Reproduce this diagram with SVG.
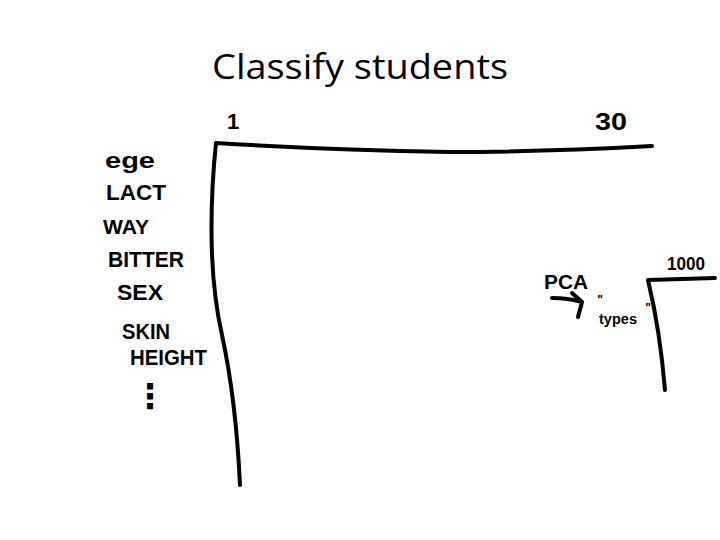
<svg xmlns="http://www.w3.org/2000/svg" width="720" height="540" viewBox="0 0 720 540">
<style>
.title{font-family:"Open Sans","Liberation Sans",sans-serif;font-size:35px;fill:#000}
.hw{font-family:"Liberation Sans","DejaVu Sans",sans-serif;font-weight:bold;fill:#000}
.ink{fill:none;stroke:#000;stroke-width:4;stroke-linecap:round;stroke-linejoin:round}
</style>
<rect width="720" height="540" fill="#fff"/>
<g id="title"><text class="title" x="360" y="79" text-anchor="middle" textLength="296" lengthAdjust="spacingAndGlyphs">Classify students</text></g>
<g id="features">
<text class="hw" x="105" y="168" font-size="22" textLength="50" lengthAdjust="spacingAndGlyphs">ege</text>
<text class="hw" x="106" y="200" font-size="22" textLength="60" lengthAdjust="spacingAndGlyphs">LACT</text>
<text class="hw" x="103" y="234" font-size="20" textLength="46" lengthAdjust="spacingAndGlyphs">WAY</text>
<text class="hw" x="108" y="267" font-size="22" textLength="76" lengthAdjust="spacingAndGlyphs">BITTER</text>
<text class="hw" x="117" y="300" font-size="22" textLength="46" lengthAdjust="spacingAndGlyphs">SEX</text>
<text class="hw" x="122" y="339" font-size="22" textLength="48" lengthAdjust="spacingAndGlyphs">SKIN</text>
<text class="hw" x="130" y="365" font-size="22" textLength="77" lengthAdjust="spacingAndGlyphs">HEIGHT</text>
<text class="hw" x="150" y="408" font-size="34" text-anchor="middle">⋮</text>
</g>
<g id="matrix">
<text class="hw" x="233" y="129" font-size="22" text-anchor="middle">1</text>
<text class="hw" x="611" y="130" font-size="24" text-anchor="middle" textLength="32" lengthAdjust="spacingAndGlyphs">30</text>
<path class="ink" d="M652,146 Q540,152 450,152 Q330,150 216,143 Q210,200 212,255 Q214,300 222,335 Q236,400 240,485"/>
</g>
<g id="reduced">
<text class="hw" x="686" y="270" font-size="18" text-anchor="middle" textLength="38" lengthAdjust="spacingAndGlyphs">1000</text>
<path class="ink" d="M715,278 L648,280 Q660,330 665,390"/>
<text class="hw" x="600" y="304" font-size="12" text-anchor="middle">"</text>
<text class="hw" x="618" y="324" font-size="14" text-anchor="middle" textLength="38" lengthAdjust="spacingAndGlyphs">types</text>
<text class="hw" x="648" y="312" font-size="12" text-anchor="middle">"</text>
</g>
<g id="connectors">
<text class="hw" x="566" y="289" font-size="20" text-anchor="middle" textLength="44" lengthAdjust="spacingAndGlyphs">PCA</text>
<path class="ink" d="M552,298 Q568,298 582,302 M572,293 L582,302 L578,317"/>
</g>
</svg>
